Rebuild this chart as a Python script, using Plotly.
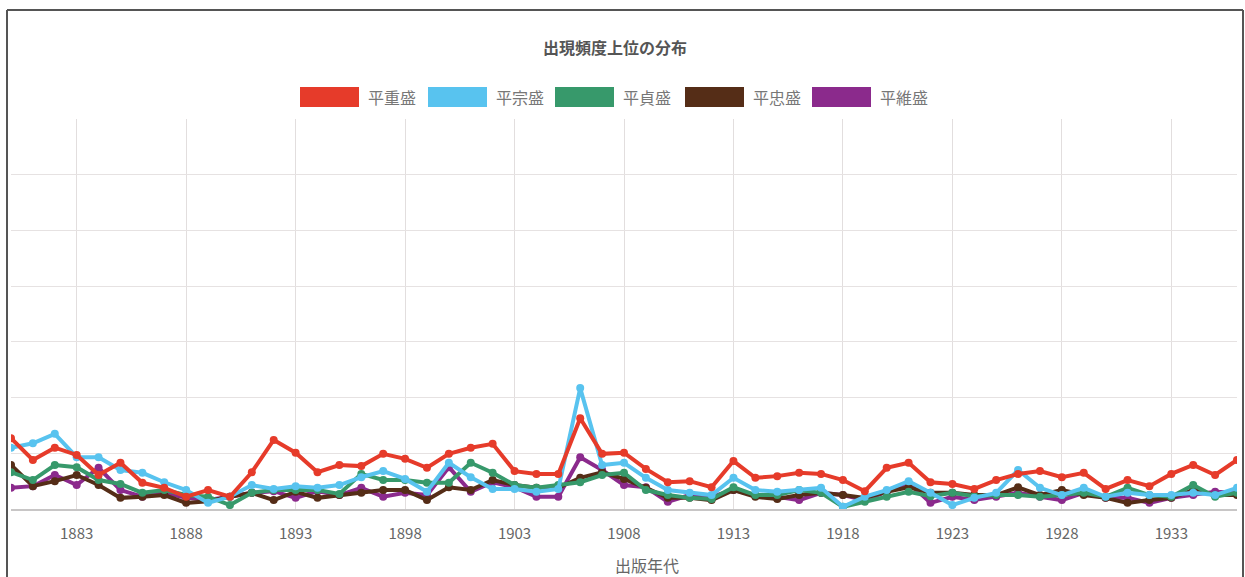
import plotly.graph_objects as go

years = list(range(1880, 1937))

names = ["平重盛", "平宗盛", "平貞盛", "平忠盛", "平維盛"]
colors = ["#e63b2a", "#58c3ef", "#37996b", "#552d17", "#8b2a8c"]

shigemori = [12.7, 8.8, 11.0, 9.7, 6.1, 8.3, 4.7, 3.8, 2.2, 3.4,
             2.2, 6.6, 12.4, 10.1, 6.6, 7.9, 7.7, 9.9, 9.0, 7.4,
             9.9, 11.0, 11.7, 6.8, 6.3, 6.3, 16.3, 9.9, 10.1, 7.2,
             4.8, 5.0, 3.9, 8.6, 5.6, 5.9, 6.5, 6.3, 5.2, 3.2,
             7.4, 8.3, 4.8, 4.5, 3.6, 5.2, 6.3, 6.8, 5.7, 6.5,
             3.6, 5.2, 4.1, 6.3, 7.9, 6.1, 8.8]
munemori = [11.0, 11.8, 13.5, 9.3, 9.3, 7.0, 6.5, 4.8, 3.4, 1.1,
            2.2, 4.3, 3.6, 4.1, 3.8, 4.3, 5.7, 6.8, 5.4, 3.1,
            8.3, 5.7, 3.6, 3.6, 3.1, 3.6, 21.7, 7.9, 8.3, 5.6,
            3.4, 2.9, 2.5, 5.6, 3.4, 3.1, 3.4, 3.8, 0.4, 2.2,
            3.4, 5.0, 2.9, 0.7, 2.0, 2.9, 7.0, 3.8, 2.5, 3.8,
            2.2, 2.9, 2.5, 2.5, 2.9, 2.5, 3.8]
sadamori = [6.6, 5.2, 7.9, 7.5, 5.2, 4.5, 2.9, 3.4, 2.5, 2.2,
            0.7, 2.9, 3.4, 3.4, 3.4, 2.7, 6.3, 5.2, 5.2, 4.7,
            4.7, 8.3, 6.5, 4.3, 3.8, 4.3, 4.8, 6.1, 6.5, 3.4,
            2.5, 2.0, 1.8, 3.9, 2.5, 2.5, 3.4, 2.9, 0.4, 1.3,
            2.2, 3.1, 2.3, 2.9, 2.3, 2.5, 2.5, 2.2, 2.5, 2.9,
            2.2, 3.8, 2.5, 2.2, 4.3, 2.2, 2.9]
tadamori = [7.9, 4.1, 5.0, 6.1, 4.3, 2.0, 2.2, 2.5, 1.1, 1.4,
            2.2, 2.9, 1.6, 3.1, 2.0, 2.5, 2.9, 3.4, 3.4, 1.6,
            3.9, 3.4, 5.2, 4.3, 3.8, 3.8, 5.6, 6.6, 5.4, 3.8,
            2.0, 2.0, 1.6, 3.4, 2.2, 1.8, 2.5, 2.9, 2.5, 2.0,
            3.1, 3.9, 2.9, 2.9, 2.5, 2.5, 3.9, 2.5, 3.4, 2.5,
            2.0, 1.1, 1.6, 2.0, 3.4, 2.5, 2.5]
koremori = [3.8, 4.1, 6.1, 4.3, 7.4, 3.4, 2.2, 2.9, 2.0, 1.6,
            2.2, 2.9, 3.2, 2.0, 3.2, 2.5, 3.8, 2.2, 2.9, 2.5,
            7.5, 3.1, 4.8, 3.9, 2.2, 2.2, 9.3, 7.0, 4.3, 3.9,
            1.3, 2.5, 2.2, 3.4, 2.5, 2.2, 1.6, 2.9, 2.5, 1.6,
            3.1, 4.7, 1.1, 2.2, 1.6, 2.2, 2.9, 2.2, 1.6, 2.9,
            2.0, 2.0, 1.1, 2.0, 2.5, 3.1, 2.9]

series = [shigemori, munemori, sadamori, tadamori, koremori]
tick_years = [1883, 1888, 1893, 1898, 1903, 1908, 1913, 1918, 1923, 1928, 1933]

W, H = 1245, 577
L, R, T, B = 11, 1237, 119, 509  # plot area in pixels
FONT = "Noto Sans CJK JP, Noto Sans, sans-serif"


def px(x):
    return (x - L) / (R - L)


def py(y):
    return (B - y) / (B - T)


fig = go.Figure()
# first dataset drawn on top (as in the original)
for i in reversed(range(len(names))):
    fig.add_trace(go.Scatter(
        x=years, y=series[i], name=names[i], mode="lines+markers",
        line=dict(color=colors[i], width=4),
        marker=dict(color=colors[i], size=8),
        showlegend=False,
    ))

shapes = [
    # outer frame of the original screenshot
    dict(type="line", xref="paper", yref="paper", x0=px(7), x1=px(7), y0=py(600), y1=py(10),
         line=dict(color="#555555", width=2)),
    dict(type="line", xref="paper", yref="paper", x0=px(7), x1=px(1243), y0=py(10), y1=py(10),
         line=dict(color="#555555", width=2)),
    dict(type="line", xref="paper", yref="paper", x0=px(1243), x1=px(1243), y0=py(600), y1=py(10),
         line=dict(color="#555555", width=2)),
]
annotations = []
legend_box_x = [300, 428, 555, 685, 812]
for i, name in enumerate(names):
    x0 = legend_box_x[i]
    shapes.append(dict(type="rect", xref="paper", yref="paper",
                       x0=px(x0), x1=px(x0 + 59), y0=py(107), y1=py(87),
                       fillcolor=colors[i], line=dict(width=0)))
    annotations.append(dict(text=name, xref="paper", yref="paper", x=px(x0 + 66), y=py(97),
                            xanchor="left", yanchor="middle", showarrow=False,
                            font=dict(family=FONT, size=16, color="#777777")))

annotations.append(dict(text="出版年代", xref="paper", yref="paper", x=px(647), y=py(565),
                        xanchor="center", yanchor="middle", showarrow=False,
                        font=dict(family=FONT, size=16, color="#666666")))

fig.update_layout(
    width=W, height=H,
    margin=dict(l=L, r=W - R, t=T, b=H - B, pad=0),
    paper_bgcolor="white", plot_bgcolor="white",
    title=dict(text="<b>出現頻度上位の分布</b>", x=615 / W, xanchor="center",
               y=1 - 48 / H, yanchor="middle",
               font=dict(family=FONT, size=16, color="#555555")),
    font=dict(family=FONT, color="#666666"),
    shapes=shapes, annotations=annotations,
    xaxis=dict(range=[1880, 1936], tickvals=tick_years, ticktext=[str(t) for t in tick_years],
               showgrid=True, gridcolor="#e2dede", gridwidth=1, zeroline=False,
               showline=True, linecolor="#c8c6c6", linewidth=2,
               ticks="", ticklabelstandoff=10,
               tickfont=dict(family=FONT, size=15, color="#666666")),
    yaxis=dict(range=[0, 70], dtick=10, showgrid=True, gridcolor="#e6e2e2", gridwidth=1,
               zeroline=False, showticklabels=False, showline=False, ticks=""),
    hovermode=False,
)

fig.write_html("out.html", config={"displayModeBar": False},
               post_script="document.body.style.margin='0';")
